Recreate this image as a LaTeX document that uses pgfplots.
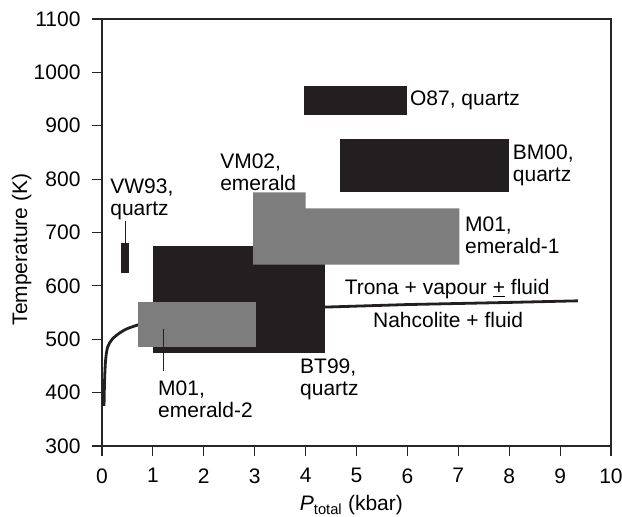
\documentclass[border=0pt]{standalone}
\usepackage{pgfplots}
\pgfplotsset{compat=1.18}
\usepackage{fontspec}
\setmainfont{Liberation Sans}
\definecolor{blk}{HTML}{231F20}
\definecolor{gry}{HTML}{7D7D7D}
\begin{document}
\begin{tikzpicture}[font=\fontsize{21}{22}\selectfont]
\begin{axis}[
  scale only axis, width=509pt, height=427pt,
  xmin=0, xmax=10, ymin=300, ymax=1100,
  xtick={0,1,...,10}, ytick={300,400,...,1100},
  tick align=outside, major tick length=10pt,
  xtick pos=bottom, ytick pos=left,
  axis line style={line width=1.2pt, black!85},
  tick style={line width=1.2pt, black!85},
  /pgf/number format/assume math mode=true,
  /pgf/number format/1000 sep={},
  xticklabel style={yshift=-9pt},
  yticklabel style={xshift=-8pt},
  xlabel={\textit{P}\textsubscript{total} (kbar)},
  ylabel={Temperature (K)},
  xlabel style={at={(axis description cs:0.49,-0.152)}, anchor=base},
  ylabel style={at={(axis description cs:-0.158,0.46)}, anchor=center},
  clip=false,
]
% phase boundary curve
\addplot[line width=2.8pt, blk, smooth] coordinates {
 (0.04,375) (0.05,420) (0.07,460) (0.11,485) (0.2,500) (0.35,512) (0.5,520) (0.74,528)};
\addplot[line width=2.8pt, blk] coordinates {
 (4.3,560) (6,565) (8,569) (9.35,572)};
% BT99
\addplot[fill=blk, draw=none] coordinates {(1,475) (4.38,475) (4.38,675) (1,675)} -- cycle;
% M01 emerald-2
\addplot[fill=gry, draw=none] coordinates {(0.71,485) (3.03,485) (3.03,570) (0.71,570)} -- cycle;
% VM02 + M01 emerald-1
\addplot[fill=gry, draw=none] coordinates {(2.97,640) (7.02,640) (7.02,745) (4,745) (4,775) (2.97,775)} -- cycle;
% O87
\addplot[fill=blk, draw=none] coordinates {(3.97,920) (6,920) (6,975) (3.97,975)} -- cycle;
% BM00
\addplot[fill=blk, draw=none] coordinates {(4.68,775) (8,775) (8,875) (4.68,875)} -- cycle;
% VW93
\addplot[fill=blk, draw=none] coordinates {(0.38,625) (0.53,625) (0.53,680) (0.38,680)} -- cycle;
% leader lines
\addplot[line width=1pt, blk] coordinates {(0.46,680) (0.46,722)};
\addplot[line width=1pt, blk] coordinates {(1.2,520) (1.2,440)};
% labels
\node[anchor=west, inner sep=0pt] at (axis cs:6.05,948) {O87, quartz};
\node[anchor=west, inner sep=0pt, align=left] at (axis cs:8.07,825) {BM00,\\quartz};
\node[anchor=west, inner sep=0pt, align=left] at (axis cs:7.13,695) {M01,\\emerald-1};
\node[anchor=west, inner sep=0pt, align=left] at (axis cs:2.32,812) {VM02,\\emerald};
\node[anchor=west, inner sep=0pt, align=left] at (axis cs:0.16,763) {VW93,\\quartz};
\node[anchor=west, inner sep=0pt, align=left] at (axis cs:1.1,387) {M01,\\emerald-2};
\node[anchor=west, inner sep=0pt, align=left] at (axis cs:3.89,424) {BT99,\\quartz};
\node[inner sep=0pt] at (axis cs:6.78,594) {Trona + vapour \underline{+} fluid};
\node[inner sep=0pt] at (axis cs:6.8,536) {Nahcolite + fluid};
\end{axis}
\pgfresetboundingbox
\path[use as bounding box] (-102pt,-71pt) rectangle (520pt,446pt);
\end{tikzpicture}
\end{document}
